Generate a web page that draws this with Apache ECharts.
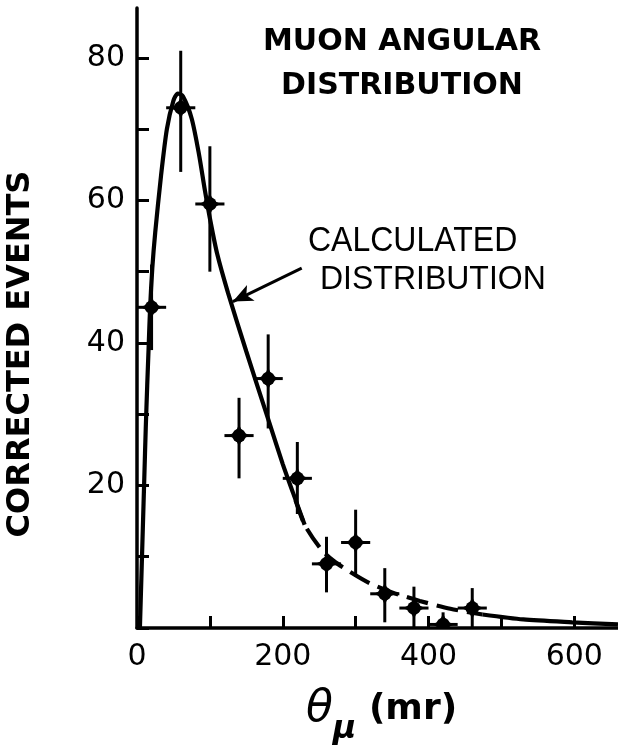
<!DOCTYPE html>
<html><head><meta charset="utf-8">
<script src="https://cdn.jsdelivr.net/npm/echarts@6/dist/echarts.min.js"></script>
<style>html,body{margin:0;padding:0;background:#fff}#c{width:618px;height:745px}</style>
</head><body><div id="c"></div>
<script>
// measured data points (theta_mu in mr, corrected events)
const angles   = [20, 60, 100, 140, 180, 220, 260, 300, 340, 380, 420, 460];
const events   = [45, 73, 59.5, 27, 35, 21, 9, 12, 4.8, 2.8, 0.5, 2.8];
const errLow   = [39, 64, 50, 21, 28, 16, 5, 7.2, 0.8, 0, 0, 0];
const errHigh  = [51, 81, 67.6, 32.3, 41.2, 26.1, 12.8, 16.6, 8.4, 5.8, 2.2, 5.6];
const binHalf  = [20, 20, 20, 20, 20, 20, 20, 20, 20, 20, 20, 20];
// calculated distribution
const curveX = [4, 6, 8, 10, 12, 14, 16, 18, 21, 25, 33, 41, 50, 56, 63, 75, 85, 93, 100, 110, 125, 150, 180, 200, 214, 230, 253, 270, 292, 319, 350, 388, 430, 474, 530, 597, 660];
const curveY = [0, 7, 14, 21, 28, 34, 39.5, 45, 50.5, 55.5, 63.5, 70, 74, 75, 74.6, 71.5, 66.5, 61.5, 57.5, 52.5, 47, 38.8, 29.3, 23, 19, 14.5, 11, 9.4, 7.9, 6.3, 5, 3.8, 2.7, 1.9, 1.2, 0.8, 0.5];
// axis ticks and labels
const xTicks = [0, 100, 200, 300, 400, 500, 600];
const xTickLabels = [0, 200, 400, 600];
const yTicks = [0, 10, 20, 30, 40, 50, 60, 70, 80];
const yTickLabels = [20, 40, 60, 80];
// texts
const titleText = 'MUON ANGULAR\nDISTRIBUTION';
const curveLabel1 = 'CALCULATED';
const curveLabel2 = 'DISTRIBUTION';
const yName = 'CORRECTED EVENTS';

const curvePts = curveX.map((x, i) => [x, curveY[i]]);
const seg = (a, b) => curvePts.filter(p => p[0] >= a && p[0] <= b);
const pts = angles.map((x, i) => [x, events[i], errLow[i], errHigh[i], binHalf[i]]);

const chart = echarts.init(document.getElementById('c'), null, {renderer: 'canvas'});
const lineStyleBase = {color: '#000', width: 4.2};
const curveCommon = {type: 'line', showSymbol: false, smooth: 0.25, z: 2};
chart.setOption({
  animation: false,
  backgroundColor: '#fff',
  grid: {left: 137, right: 0, top: 8, bottom: 117, containLabel: false, outerBoundsMode: 'none'},
  xAxis: {
    type: 'value', min: 0, max: 660,
    axisLine: {show: true, lineStyle: {color: '#000', width: 3.5}},
    axisTick: {show: true, inside: true, length: 12, customValues: xTicks, lineStyle: {color: '#000', width: 3}},
    axisLabel: {customValues: xTickLabels, color: '#000', fontFamily: 'DejaVu Sans', fontSize: 30, margin: 14},
    splitLine: {show: false},
    name: '{t|θ}{m|μ}{r| (mr)}',
    nameLocation: 'middle', nameGap: 60,
    nameTextStyle: {
      padding: [0, 0, 0, 8],
      rich: {
        t: {fontFamily: 'DejaVu Sans', fontStyle: 'italic', fontSize: 44, color: '#000', verticalAlign: 'top'},
        m: {fontFamily: 'DejaVu Sans', fontStyle: 'italic', fontWeight: 'bold', fontSize: 32, color: '#000', padding: [26, 0, 0, 0], verticalAlign: 'top'},
        r: {fontFamily: 'DejaVu Sans', fontWeight: 'bold', fontSize: 36, color: '#000', verticalAlign: 'top', padding: [4, 0, 0, 0]}
      }
    }
  },
  yAxis: {
    type: 'value', min: 0, max: 87,
    axisLine: {show: true, lineStyle: {color: '#000', width: 3.5}},
    axisTick: {show: true, inside: true, length: 12, customValues: yTicks, lineStyle: {color: '#000', width: 3}},
    axisLabel: {customValues: yTickLabels, color: '#000', fontFamily: 'DejaVu Sans', fontSize: 30, margin: 12},
    splitLine: {show: false},
    name: yName, nameLocation: 'middle', nameGap: 100, nameRotate: 90,
    nameTextStyle: {fontFamily: 'DejaVu Sans', fontWeight: 'bold', fontSize: 32, color: '#000', padding: [0, 72, 0, 0]}
  },
  series: [
    Object.assign({}, curveCommon, {data: seg(0, 230), lineStyle: lineStyleBase,
      markLine: {silent: true, symbol: ['none', 'arrow'], symbolSize: [13, 20],
        lineStyle: {color: '#000', width: 3, type: 'solid'}, label: {show: false},
        data: [[{coord: [226, 50.5]}, {coord: [131.5, 45.8]}]]}}),
    Object.assign({}, curveCommon, {data: seg(214, 474), lineStyle: Object.assign({}, lineStyleBase, {type: [22, 9], dashOffset: -8})}),
    Object.assign({}, curveCommon, {data: seg(474, 660), lineStyle: lineStyleBase}),
    {type: 'custom', data: pts, clip: true, z: 3,
      renderItem: function (params, api) {
        const x = api.value(0), y = api.value(1), lo = api.value(2), hi = api.value(3), hw = api.value(4);
        const c = api.coord([x, y]), t = api.coord([x, hi]), b = api.coord([x, lo]);
        const l = api.coord([x - hw, y]), r = api.coord([x + hw, y]);
        const st = {stroke: '#000', lineWidth: 3};
        const k = 11, m = 3.5;
        return {type: 'group', children: [
          {type: 'line', shape: {x1: t[0], y1: t[1], x2: b[0], y2: b[1]}, style: st},
          {type: 'line', shape: {x1: l[0], y1: l[1], x2: r[0], y2: r[1]}, style: st},
          {type: 'circle', shape: {cx: c[0], cy: c[1], r: 6.8}, style: {fill: '#000'}},
          {type: 'polygon', shape: {points: [
            [c[0], c[1] - k], [c[0] + m, c[1] - m], [c[0] + k, c[1]], [c[0] + m, c[1] + m],
            [c[0], c[1] + k], [c[0] - m, c[1] + m], [c[0] - k, c[1]], [c[0] - m, c[1] - m]]}, style: {fill: '#000'}}
        ]};
      }
    }
  ],
  graphic: [
    {type: 'text', x: 402, y: 20, style: {text: titleText, fontFamily: 'DejaVu Sans', fontWeight: 'bold', fontSize: 30, lineHeight: 44, fill: '#000', align: 'center'}},
    {type: 'text', x: 308, y: 223, scaleY: 1.12, style: {text: curveLabel1, fontFamily: 'Liberation Sans', fontSize: 32, fill: '#000'}},
    {type: 'text', x: 320, y: 263, scaleY: 1.05, style: {text: curveLabel2, fontFamily: 'Liberation Sans', fontSize: 32, fill: '#000'}}
  ]
});
</script></body></html>
